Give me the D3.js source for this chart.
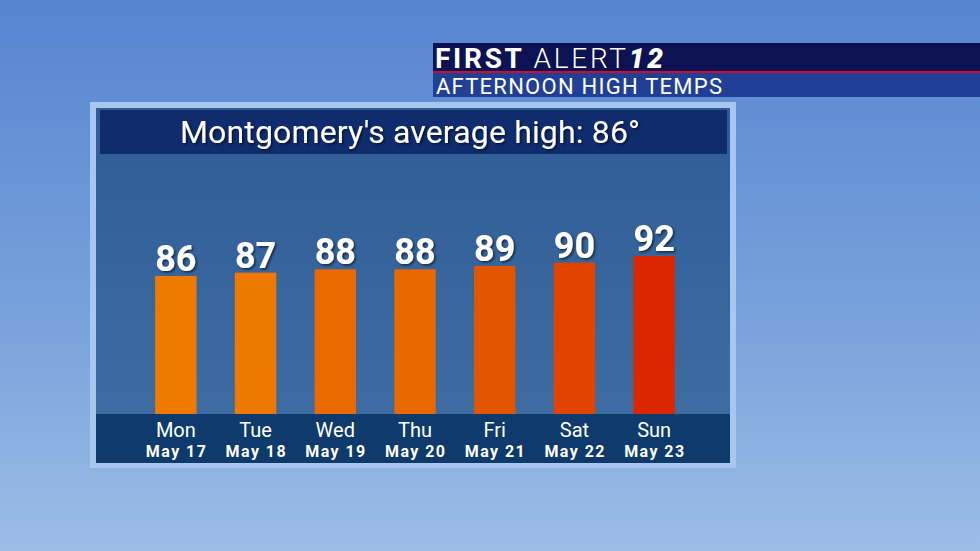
<!DOCTYPE html>
<html><head><meta charset="utf-8">
<script src="https://cdn.jsdelivr.net/npm/d3@7"></script>
<style>body{margin:0;overflow:hidden}svg{display:block}</style>
</head><body>
<svg id="c" width="980" height="551"></svg>
<script>
const days = ["Mon", "Tue", "Wed", "Thu", "Fri", "Sat", "Sun"];
const dates = ["May 17", "May 18", "May 19", "May 20", "May 21", "May 22", "May 23"];
const highs = [86, 87, 88, 88, 89, 90, 92];
const barColors = ["#ef7a00", "#ef7800", "#ea6a00", "#e96800", "#e45500", "#e24400", "#dc2600"];

const svg = d3.select("#c");
const defs = svg.append("defs");
const sky = defs.append("linearGradient").attr("id", "sky").attr("x1", 0).attr("y1", 0).attr("x2", 0).attr("y2", 1);
sky.append("stop").attr("offset", 0).attr("stop-color", "#5684d0");
sky.append("stop").attr("offset", 0.6).attr("stop-color", "#7aa3dc");
sky.append("stop").attr("offset", 1).attr("stop-color", "#9cbde6");
const panel = defs.append("linearGradient").attr("id", "panel").attr("x1", 0).attr("y1", 0).attr("x2", 0).attr("y2", 1);
panel.append("stop").attr("offset", 0).attr("stop-color", "#2f5c95");
panel.append("stop").attr("offset", 1).attr("stop-color", "#3f6ea4");
const shadow = defs.append("filter").attr("id", "sh");
shadow.append("feDropShadow").attr("dx", 1.5).attr("dy", 1.5).attr("stdDeviation", 1).attr("flood-color", "#000").attr("flood-opacity", 0.6);

svg.append("rect").attr("width", 980).attr("height", 551).attr("fill", "url(#sky)");

// header
svg.append("rect").attr("x", 433).attr("y", 43).attr("width", 547).attr("height", 29).attr("fill", "#0c1252");
svg.append("rect").attr("x", 433).attr("y", 71).attr("width", 547).attr("height", 2).attr("fill", "#c8102e");
svg.append("rect").attr("x", 433).attr("y", 73).attr("width", 547).attr("height", 24).attr("fill", "#213f94");
const head = svg.append("text").attr("x", 435).attr("y", 68).attr("fill", "#fff")
  .attr("font-family", "Roboto, sans-serif").attr("font-size", 28).attr("textLength", 228);
head.append("tspan").attr("font-weight", "bold").text("FIRST ");
head.append("tspan").attr("font-weight", 300).text("ALERT");
head.append("tspan").attr("font-weight", 900).attr("font-style", "italic").text("12");
svg.append("text").attr("x", 436).attr("y", 94).attr("fill", "#fff")
  .attr("font-family", "Roboto, sans-serif").attr("font-size", 22).attr("textLength", 286)
  .text("AFTERNOON HIGH TEMPS");

// panel
svg.append("rect").attr("x", 90).attr("y", 102).attr("width", 646).attr("height", 366).attr("fill", "#a9c6ee");
svg.append("rect").attr("x", 96).attr("y", 108).attr("width", 634).attr("height", 355).attr("fill", "url(#panel)");
svg.append("rect").attr("x", 100).attr("y", 110).attr("width", 627).attr("height", 44).attr("fill", "#0e2c6e");
svg.append("text").attr("x", 410).attr("y", 143).attr("text-anchor", "middle").attr("fill", "#fff")
  .attr("font-family", "Roboto, sans-serif").attr("font-size", 32).attr("textLength", 460)
  .attr("filter", "url(#sh)").text("Montgomery's average high: 86°");
svg.append("rect").attr("x", 96).attr("y", 414).attr("width", 634).attr("height", 49).attr("fill", "#0e3a6c");

const x = d3.scaleBand().domain(days).range([136, 694]).paddingInner(0.48).paddingOuter(0.24);
const y = d3.scaleLinear().domain([44.6, 92]).range([414, 256]);

const g = svg.append("g");
g.selectAll("rect.bar").data(highs).join("rect").attr("class", "bar")
  .attr("x", (d, i) => x(days[i])).attr("width", x.bandwidth())
  .attr("y", d => y(d)).attr("height", d => y(y.domain()[0]) - y(d))
  .attr("fill", (d, i) => barColors[i]);
g.selectAll("text.val").data(highs).join("text").attr("class", "val")
  .attr("x", (d, i) => x(days[i]) + x.bandwidth() / 2).attr("y", d => y(d) - 5)
  .attr("text-anchor", "middle").attr("fill", "#fff").attr("font-weight", "bold")
  .attr("font-family", "Roboto, sans-serif").attr("font-size", 36).attr("filter", "url(#sh)")
  .text(d => d);
g.selectAll("text.day").data(days).join("text").attr("class", "day")
  .attr("x", d => x(d) + x.bandwidth() / 2).attr("y", 437)
  .attr("text-anchor", "middle").attr("fill", "#fff")
  .attr("font-family", "Roboto, sans-serif").attr("font-size", 20).text(d => d);
g.selectAll("text.date").data(dates).join("text").attr("class", "date")
  .attr("x", (d, i) => x(days[i]) + x.bandwidth() / 2).attr("y", 457)
  .attr("text-anchor", "middle").attr("fill", "#fff").attr("font-weight", "bold")
  .attr("font-family", "Roboto, sans-serif").attr("font-size", 16).attr("textLength", 60)
  .text(d => d);
</script>
</body></html>
